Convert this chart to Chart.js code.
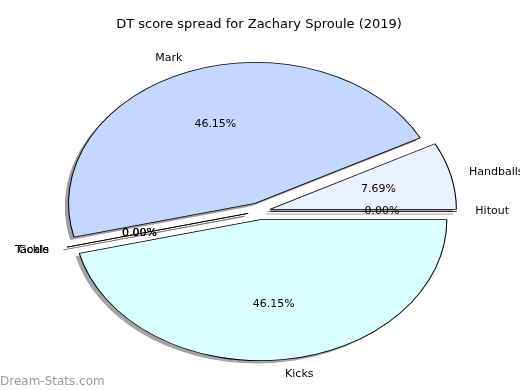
<!DOCTYPE html>
<html>
<head>
<meta charset="utf-8">
<script src="https://cdn.jsdelivr.net/npm/chart.js@4.4.1/dist/chart.umd.min.js"></script>
<style>
    html, body { margin: 0; background: #fff; }
</style>
</head>
<body>
<canvas id="dtPie" width="520" height="390"></canvas>
<script>
// Slices listed clockwise from 3 o'clock (matplotlib draws them counter-clockwise)
const labels = ['Hitout', 'Kicks', 'Tackle', 'Goals', 'Mark', 'Handballs'];
const scores = [0, 12, 0, 0, 12, 2];
const sliceColours = ['#dfe9ff', '#d9ffff', '#cfe0ff', '#b8ceff', '#c4d8ff', '#eaf1ff'];

const TITLE = 'DT score spread for Zachary Sproule (2019)';
const WATERMARK = 'Dream-Stats.com';

// The reference axes are not square, so the pie comes out as an ellipse
const STRETCH = 186.5 / 141;
const EXPLODE = 0.06;      // fraction of radius every wedge is pushed out
const SHADOW = 0.02;       // shadow offset, fraction of radius

function shadeOf(hex) {
    const n = parseInt(hex.slice(1), 16);
    const r = Math.round(((n >> 16) & 255) * 0.3);
    const g = Math.round(((n >> 8) & 255) * 0.3);
    const b = Math.round((n & 255) * 0.3);
    return `rgba(${r}, ${g}, ${b}, 0.5)`;
}

function wedgePath(ctx, arc) {
    ctx.beginPath();
    ctx.moveTo(arc.x, arc.y);
    if (arc.circumference > 0) {
        ctx.arc(arc.x, arc.y, arc.outerRadius, arc.startAngle, arc.endAngle);
    } else {
        ctx.lineTo(arc.x + Math.cos(arc.startAngle) * arc.outerRadius,
                   arc.y + Math.sin(arc.startAngle) * arc.outerRadius);
    }
    ctx.closePath();
}

const piePainter = {
    id: 'piePainter',
    beforeDatasetsDraw(chart) {
        const ctx = chart.ctx;
        const arcs = chart.getDatasetMeta(0).data;
        const cx = arcs[0].x, cy = arcs[0].y;

        ctx.save();
        ctx.translate(cx, cy);
        ctx.scale(STRETCH, 1);
        ctx.translate(-cx, -cy);

        // shadows go underneath every wedge
        arcs.forEach((arc, i) => {
            const mid = (arc.startAngle + arc.endAngle) / 2;
            const push = EXPLODE * arc.outerRadius;
            const s = SHADOW * arc.outerRadius;
            ctx.save();
            ctx.translate(Math.cos(mid) * push - s, Math.sin(mid) * push + s);
            wedgePath(ctx, arc);
            ctx.fillStyle = shadeOf(sliceColours[i]);
            ctx.fill();
            if (arc.circumference === 0) {
                ctx.strokeStyle = shadeOf(sliceColours[i]);
                ctx.lineWidth = 1;
                ctx.stroke();
            }
            ctx.restore();
        });

        arcs.forEach((arc) => {
            const mid = (arc.startAngle + arc.endAngle) / 2;
            const push = EXPLODE * arc.outerRadius;
            ctx.save();
            ctx.translate(Math.cos(mid) * push, Math.sin(mid) * push);
            if (arc.circumference > 0) {
                arc.draw(ctx);
            } else {
                // zero-size wedge: matplotlib still strokes its outline
                wedgePath(ctx, arc);
                ctx.strokeStyle = '#000';
                ctx.lineWidth = 0.8;
                ctx.stroke();
            }
            ctx.restore();
        });

        ctx.restore();
        return false;
    },
    afterDraw(chart) {
        const ctx = chart.ctx;
        const arcs = chart.getDatasetMeta(0).data;
        const total = scores.reduce((a, b) => a + b, 0);

        ctx.save();
        ctx.font = '11px "DejaVu Sans"';
        ctx.fillStyle = '#000';
        ctx.textBaseline = 'middle';
        arcs.forEach((arc, i) => {
            const mid = (arc.startAngle + arc.endAngle) / 2;
            const r = arc.outerRadius;
            const push = EXPLODE * r;
            const at = k => ({
                x: arc.x + Math.cos(mid) * (push + k * r) * STRETCH,
                y: arc.y + Math.sin(mid) * (push + k * r)
            });
            const c = Math.cos(mid);
            const name = at(1.1);
            ctx.textAlign = c > 1e-9 ? 'left' : (c < -1e-9 ? 'right' : 'center');
            ctx.fillText(labels[i], name.x, name.y);

            const pct = at(0.6);
            ctx.textAlign = 'center';
            ctx.fillText((scores[i] / total * 100).toFixed(2) + '%', pct.x, pct.y);
        });

        ctx.font = '12px "DejaVu Sans"';
        ctx.fillStyle = 'rgba(120, 120, 120, 0.75)';
        ctx.textAlign = 'left';
        ctx.textBaseline = 'alphabetic';
        ctx.fillText(WATERMARK, 0, 385);
        ctx.restore();
    }
};

window.addEventListener('DOMContentLoaded', () => {
    const ctx = document.getElementById('dtPie').getContext('2d');
    new Chart(ctx, {
        type: 'pie',
        data: {
            labels: labels,
            datasets: [{
                data: scores,
                backgroundColor: sliceColours,
                borderColor: '#000',
                borderWidth: 0.8,
                offset: 0,
                hoverOffset: 0
            }]
        },
        options: {
            responsive: false,
            animation: false,
            rotation: 90,
            radius: 141,
            layout: { padding: { left: 0, right: 2, top: 0, bottom: 0 } },
            plugins: {
                legend: { display: false },
                tooltip: { enabled: false },
                title: {
                    display: true,
                    text: TITLE,
                    color: '#000',
                    font: { family: '"DejaVu Sans"', size: 13, weight: 'normal' },
                    padding: { top: 17, bottom: 0 }
                }
            }
        },
        plugins: [piePainter]
    });
});
</script>
</body>
</html>
